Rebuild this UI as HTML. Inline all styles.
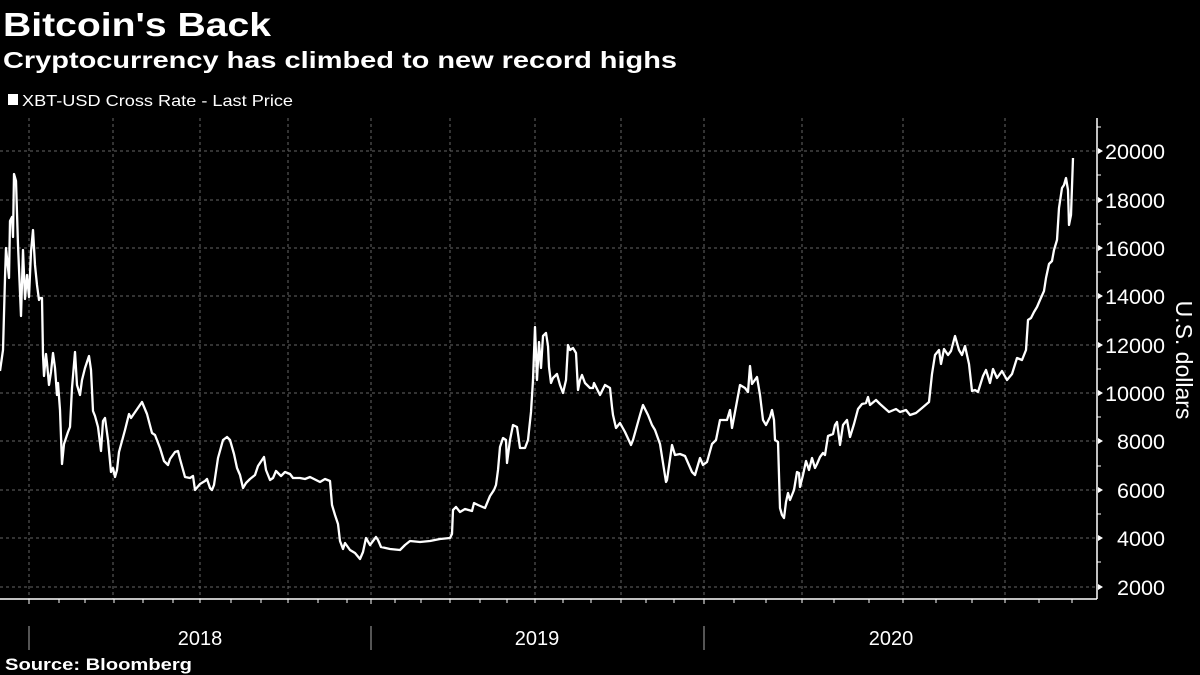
<!DOCTYPE html>
<html><head><meta charset="utf-8"><style>
body{margin:0;background:#000;}
svg{display:block;font-family:"Liberation Sans",sans-serif;}
</style></head><body>
<svg width="1200" height="675" viewBox="0 0 1200 675">
<rect width="1200" height="675" fill="#000"/>
<text x="3" y="36" fill="#fff" font-size="33" font-weight="bold" textLength="268" lengthAdjust="spacingAndGlyphs">Bitcoin's Back</text>
<text x="3" y="68" fill="#fff" font-size="23" font-weight="bold" textLength="674" lengthAdjust="spacingAndGlyphs">Cryptocurrency has climbed to new record highs</text>
<rect x="8" y="94" width="10" height="11" fill="#fff"/>
<text x="22" y="106" fill="#fff" font-size="16" textLength="271" lengthAdjust="spacingAndGlyphs">XBT-USD Cross Rate - Last Price</text>
<g stroke="#666" stroke-width="1" stroke-dasharray="3,3">
<line x1="29" y1="118" x2="29" y2="599"/><line x1="113" y1="118" x2="113" y2="599"/><line x1="200" y1="118" x2="200" y2="599"/><line x1="288" y1="118" x2="288" y2="599"/><line x1="371" y1="118" x2="371" y2="599"/><line x1="450" y1="118" x2="450" y2="599"/><line x1="535" y1="118" x2="535" y2="599"/><line x1="621" y1="118" x2="621" y2="599"/><line x1="704" y1="118" x2="704" y2="599"/><line x1="802" y1="118" x2="802" y2="599"/><line x1="903" y1="118" x2="903" y2="599"/><line x1="1005" y1="118" x2="1005" y2="599"/>
<line x1="0" y1="151" x2="1097" y2="151"/><line x1="0" y1="200" x2="1097" y2="200"/><line x1="0" y1="248" x2="1097" y2="248"/><line x1="0" y1="296" x2="1097" y2="296"/><line x1="0" y1="345" x2="1097" y2="345"/><line x1="0" y1="393" x2="1097" y2="393"/><line x1="0" y1="441" x2="1097" y2="441"/><line x1="0" y1="490" x2="1097" y2="490"/><line x1="0" y1="538" x2="1097" y2="538"/><line x1="0" y1="587" x2="1097" y2="587"/>
</g>
<g stroke="#fff" stroke-width="1.5">
<line x1="0" y1="599" x2="1097" y2="599"/>
<line x1="1097" y1="118" x2="1097" y2="599"/>
</g>
<g stroke="#fff" stroke-width="1">
<path d="M29 599v5M59 599v4M85 599v4M114 599v4M143 599v4M173 599v4M200 599v4M231 599v4M261 599v4M288 599v4M318 599v4M347 599v4M371 599v5M395 599v4M421 599v4M450 599v4M480 599v4M507 599v4M535 599v4M563 599v4M591 599v4M621 599v4M646 599v4M674 599v4M704 599v5M734 599v4M766 599v4M802 599v4M834 599v4M869 599v4M903 599v4M936 599v4M972 599v4M1005 599v4M1039 599v4M1072 599v4"/>
<path d="M1097 127h4M1097 175h4M1097 224h4M1097 272h4M1097 320h4M1097 369h4M1097 417h4M1097 466h4M1097 514h4M1097 562h4"/>
<path d="M29 626v24M371 626v24M704 626v24" stroke="#aaa"/>
</g>
<g fill="#fff">
<path d="M1098 148l5 3l-5 3zM1098 197l5 3l-5 3zM1098 245l5 3l-5 3zM1098 293l5 3l-5 3zM1098 342l5 3l-5 3zM1098 390l5 3l-5 3zM1098 438l5 3l-5 3zM1098 487l5 3l-5 3zM1098 535l5 3l-5 3zM1098 584l5 3l-5 3z"/>
</g>
<g fill="#fff" font-size="21">
<text x="1105" y="159" textLength="60" lengthAdjust="spacingAndGlyphs">20000</text><text x="1105" y="208" textLength="60" lengthAdjust="spacingAndGlyphs">18000</text><text x="1105" y="256" textLength="60" lengthAdjust="spacingAndGlyphs">16000</text><text x="1105" y="304" textLength="60" lengthAdjust="spacingAndGlyphs">14000</text><text x="1105" y="353" textLength="60" lengthAdjust="spacingAndGlyphs">12000</text><text x="1105" y="401" textLength="60" lengthAdjust="spacingAndGlyphs">10000</text><text x="1117" y="449" textLength="48" lengthAdjust="spacingAndGlyphs">8000</text><text x="1117" y="498" textLength="48" lengthAdjust="spacingAndGlyphs">6000</text><text x="1117" y="546" textLength="48" lengthAdjust="spacingAndGlyphs">4000</text><text x="1117" y="595" textLength="48" lengthAdjust="spacingAndGlyphs">2000</text>
</g>
<text transform="translate(1176,360) rotate(90)" fill="#fff" font-size="23" text-anchor="middle">U.S. dollars</text>
<g fill="#fff" font-size="20" text-anchor="middle">
<text x="200" y="645">2018</text><text x="537" y="645">2019</text><text x="891" y="645">2020</text>
</g>
<text x="5" y="670" fill="#fff" font-size="17" font-weight="bold" textLength="187" lengthAdjust="spacingAndGlyphs">Source: Bloomberg</text>
<polyline fill="none" stroke="#fff" stroke-width="2.3" stroke-linejoin="round" points="0,371 3,350 5,278 6,248 9,278 10,221 12,217 13,237 14,174 16,181 18,245 21,316 23,250 25,299 27,275 29,297 31,252 33,230 35,265 37,285 39,300 40,298 42,298 43,355 44,376 46,354 47,363 49,385 51,372 53,353 55,368 57,395 58,383 60,410 62,464 64,444 68,432 70,427 72,388 75,352 77,385 80,395 82,380 85,368 89,356 91,370 93,411 95,416 98,427 101,451 103,421 105,418 108,440 111,472 113,468 115,477 117,470 119,452 125,430 129,414 131,418 142,402 147,414 152,433 155,435 160,448 164,461 168,465 170,459 175,452 178,451 180,459 185,477 190,478 193,476 195,490 200,484 205,481 207,479 210,488 212,490 214,485 218,458 223,440 227,437 230,440 234,454 237,468 240,475 243,488 246,483 250,479 255,475 258,466 262,460 264,457 266,470 270,480 273,478 276,471 281,476 285,472 290,474 293,478 300,478 305,479 310,477 320,482 325,479 330,481 332,505 335,515 338,524 340,541 343,549 345,543 350,550 355,553 360,559 363,552 366,538 370,545 376,537 378,540 381,547 390,549 400,550 405,545 410,541 420,542 430,541 440,539 450,538 452,534 453,510 456,507 460,512 465,509 472,511 474,503 478,505 485,508 490,496 494,490 496,485 498,470 500,447 503,438 506,440 507,463 510,440 513,425 517,427 520,448 525,448 528,440 531,412 533,380 535,327 537,380 539,342 541,368 543,336 546,333 548,346 549,367 551,383 553,378 557,374 560,385 563,393 566,380 568,345 570,350 573,348 576,353 578,390 580,380 582,375 585,383 590,388 593,388 594,383 600,395 605,385 610,388 612,407 613,415 616,428 620,423 625,432 631,445 633,440 640,415 643,405 648,415 652,425 655,430 660,444 666,482 667,480 672,445 675,455 680,454 685,456 692,472 695,475 700,458 703,465 707,462 712,444 716,440 720,420 727,420 730,410 732,428 735,412 740,385 745,388 748,392 750,366 752,384 757,377 760,395 763,420 766,425 770,417 772,410 774,420 775,440 778,442 780,508 782,515 784,518 786,502 788,493 790,500 794,490 797,472 799,473 800,487 803,475 806,461 809,470 812,458 815,468 817,464 820,457 823,453 825,455 828,436 833,434 835,425 837,422 840,445 843,425 847,420 850,437 854,424 858,409 862,404 866,403 868,397 870,405 876,400 880,404 889,412 896,409 900,412 906,410 910,415 916,413 922,408 929,402 932,374 935,355 939,350 941,364 944,349 948,355 951,351 955,336 959,350 962,355 965,346 969,364 972,391 975,390 978,392 983,376 986,370 990,383 993,369 997,378 1002,371 1007,380 1012,374 1017,358 1022,360 1026,350 1028,320 1031,318 1034,312 1037,307 1040,300 1044,291 1046,278 1049,264 1052,261 1054,250 1057,240 1059,208 1062,188 1064,185 1066,178 1068,190 1069,225 1071,215 1073,158"/>
</svg>
</body></html>
